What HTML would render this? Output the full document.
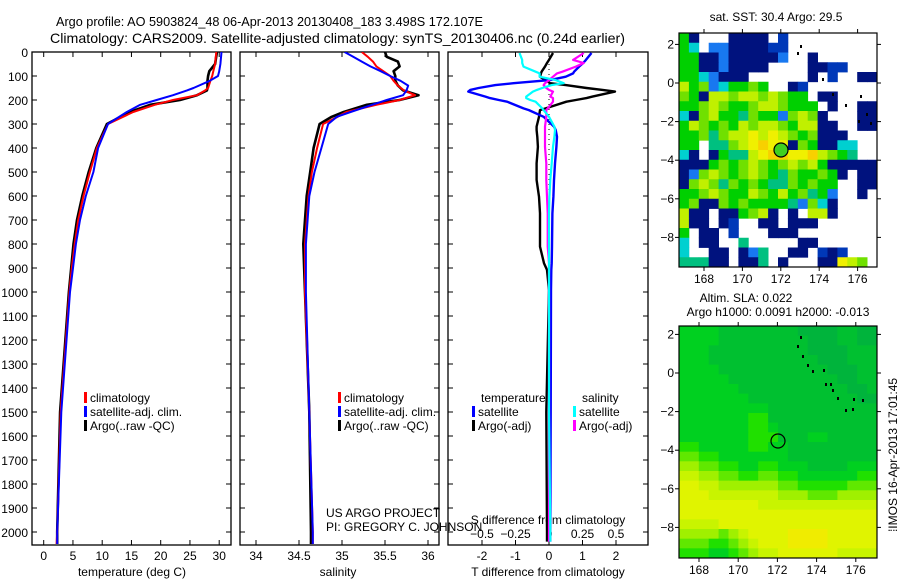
<!DOCTYPE html>
<html><head><meta charset="utf-8">
<style>
html,body{margin:0;padding:0;background:#fff;}
svg{display:block;font-family:"Liberation Sans",sans-serif;}
text{font-size:12px;fill:#000;}
</style></head>
<body>
<svg id="fig" width="900" height="580" viewBox="0 0 900 580" xmlns="http://www.w3.org/2000/svg">
<text x="56" y="26" style="font-size:13px" textLength="427" lengthAdjust="spacingAndGlyphs">Argo profile: AO 5903824_48 06-Apr-2013 20130408_183 3.498S 172.107E</text>
<text x="50" y="43" style="font-size:14px" textLength="575" lengthAdjust="spacingAndGlyphs">Climatology: CARS2009. Satellite-adjusted climatology: synTS_20130406.nc (0.24d earlier)</text>
<text x="776" y="21" text-anchor="middle" style="font-size:12px">sat. SST: 30.4 Argo: 29.5</text>
<text x="746" y="302" text-anchor="middle">Altim. SLA: 0.022</text>
<text x="778" y="316" text-anchor="middle">Argo h1000: 0.0091 h2000: -0.013</text>
<text transform="translate(897,455) rotate(-90)" text-anchor="middle">⁞IMOS 16-Apr-2013 17:01:45</text>
<text x="326" y="517">US ARGO PROJECT</text>
<text x="326" y="531">PI: GREGORY C. JOHNSON</text>
<g id="plots"></g>
</svg>
<script>
// ---- data ----
const depthT = [0,50,80,100,120,150,160,180,200,220,250,300,400,500,600,700,800,900,1000,1500,2000,2050];
const tempClim = [29.5,29.3,29.0,28.8,28.5,28.1,27.6,26.2,22.1,19.0,15.3,11.0,9.1,7.9,6.8,5.9,5.3,4.8,4.4,2.9,2.3,2.2];
const tempArgo = [29.6,29.3,28.3,28.1,28.0,28.0,27.9,26.2,23.3,18.2,14.7,10.8,9.0,7.7,6.6,5.7,5.1,4.7,4.3,2.8,2.3,2.3];
const tempSat  = [30.4,30.2,30.0,29.8,28.4,25.6,24.5,22.1,19.3,16.5,14.2,11.0,9.3,8.5,7.2,6.2,5.5,5.0,4.5,3.0,2.3,2.3];
const depthS = [0,20,40,60,80,100,120,140,160,180,200,220,250,270,300,400,500,600,800,1000,1500,2000,2050];
const salClim = [35.23,35.30,35.36,35.40,35.48,35.56,35.60,35.65,35.72,35.85,35.67,35.40,35.05,34.95,34.78,34.71,34.65,34.61,34.57,34.57,34.62,34.66,34.66];
const salArgo = [35.50,35.52,35.65,35.67,35.60,35.62,35.62,35.65,35.71,35.89,35.67,35.29,35.02,34.88,34.74,34.67,34.63,34.59,34.55,34.57,34.62,34.64,34.64];
const salSat  = [35.03,35.13,35.23,35.33,35.45,35.56,35.68,35.77,35.75,35.71,35.52,35.35,35.10,34.94,34.84,34.76,34.68,34.62,34.58,34.58,34.62,34.66,34.66];
const depthD = [4,33,46,61,82,89,103,117,130,138,150,158,165,186,192,200,207,235,242,270,311,325,353,395,464,533,603,672,811,880,908,992,1500,2000,2040];
const dTArgo = [0.12,0.0,-0.06,-0.12,-0.22,-0.24,-0.27,-0.1,0.03,0.5,1.12,1.6,1.97,1.3,1.12,0.8,0.52,-0.1,-0.27,-0.3,-0.37,-0.37,-0.35,-0.33,-0.37,-0.37,-0.3,-0.27,-0.27,-0.15,-0.06,0.0,-0.08,-0.06,-0.06];
const dTSat  = [1.27,1.1,1.02,0.9,0.75,0.72,0.5,0.03,-1.06,-1.6,-2.1,-2.35,-2.41,-1.9,-1.76,-1.5,-1.25,-0.76,-0.6,-0.16,0.15,0.2,0.24,0.22,0.18,0.15,0.13,0.1,0.09,0.08,0.07,0.06,0.05,0.04,0.04];
const dSArgo = [0.26,0.18,0.26,0.2,0.1,0.06,0.03,0.0,-0.03,-0.04,-0.02,0.0,0.03,0.01,0.03,0.03,0.03,-0.01,-0.02,-0.02,-0.03,-0.03,-0.03,-0.03,-0.02,-0.02,-0.015,-0.01,-0.01,0.0,0.0,0.0,0.0,0.0,0.0];
const dSSat  = [-0.22,-0.2,-0.2,-0.19,-0.1,-0.07,-0.07,0.05,0.11,0.02,-0.05,-0.09,-0.12,-0.17,-0.17,-0.14,-0.1,-0.05,-0.04,0.0,0.04,0.045,0.04,0.03,0.02,0.01,0.003,0.0,0.0,0.0,0.0,0.0,0.0,0.01,0.01];
const depthTicks = [0,100,200,300,400,500,600,700,800,900,1000,1100,1200,1300,1400,1500,1600,1700,1800,1900,2000];
const tempTicks = [0,5,10,15,20,25,30];
const salTicks = [34,34.5,35,35.5,36];
const salTickLabels = ["34","34.5","35","35.5","36"];
const dTTicks = [-2,-1,0,1,2];
const dSTicks = [-0.5,-0.25,0,0.25,0.5];
const dSTickLabels = ["\u22120.5","\u22120.25","0","0.25","0.5"];
const latTicks = [2,0,-2,-4,-6,-8];
const lonTicks = [168,170,172,174,176];
const sstRows = [
"GN...NNNN.B.........",
"GC.LLNNNNBB.........",
"GGNNLNNNNNL..N......",
"GGNNLNNNN....NNBB...",
"GGCLNNN......N.B..NN",
"YGgLCGGgG..NB.......",
"gGNYYgYYgYgGG.NN....",
"GGgYgGGgYYgGGG.N..NN",
"CNgYGGTgGGLgYgN...NN",
"GYgGgGYgYYgGYYNN..NN",
"GGgTgYYyYyYgGgNNN...",
"GG.TTgYyOyyNgGNNCC..",
"CN.NGTTYyOOyyOYgGT..",
"NNNGgGgYgGgYgYGNNNNN",
"NLgYgGgYgGTgGGgGN.NN",
"NgYgTgGgGTTgGgGG..NN",
"GGgYgGGYgGYGgTGL..N.",
"GgNNgGgGGGGTLgCN....",
"YNN.NNGgYN.N.YYN....",
"YNN.NB..NN.NNN......",
"G.NN.B...NNN........",
"C.NN..T.....NN......",
"C..NN.NLT..NN.BNB...",
"TTTNN.NNT.N...NNyYg."];
const sstColors = {N:"#00127e",B:"#0038b8",L:"#1878f0",C:"#00d0d0",T:"#00c080",G:"#00d000",g:"#70e000",Y:"#c0f000",y:"#f0f000",O:"#f8d000"};
const slaRows = [
"22221111111100001100","22221111111110001100","22211111111110000111","22211111111111000111",
"22221111111111100011","22222111111111110011","22222211111111111001","22222221111111111100",
"22222222211111111111","22222223311111111111","22222223321111111111","22222223331112211111",
"33222223322111111111","44332222222111111111","55443322332221111222","66554433443322222233",
"77665555554433333444","77766666665554445555","77777777666666666666","77777777777777777777",
"66667777777777777777","55554567777888877777","44433456777888877777","33322345667777776666"];
const slaColors = ["#00b43c","#00c030","#00d020","#20e000","#60e800","#a0f000","#c8f400","#e0f400","#f0ec00"];

// ---- helpers ----
const NS="http://www.w3.org/2000/svg";
const root=document.getElementById('plots');
function mk(tag,attrs,parent){const e=document.createElementNS(NS,tag);for(const k in attrs)e.setAttribute(k,attrs[k]);(parent||root).appendChild(e);return e;}
function txt(s,x,y,anchor,parent,size){const t=mk('text',{x:x,y:y,'text-anchor':anchor||'middle'},parent);if(size)t.style.fontSize=size+'px';t.textContent=s;return t;}
const yD = d => 52 + 0.24*d;
const P1={x0:32,x1:231}, P2={x0:240,x1:439}, P3={x0:448,x1:648};
const yTop=52, yBot=545;
const xT = v => 43.7 + 5.85*v;
const xS = v => 256 + 86*(v-34);
const xDT = v => 549 + 33.5*v;
const xDS = v => 549 + 134*v;

[[P1,'temperature-panel'],[P2,'salinity-panel'],[P3,'difference-panel']].forEach(([p,n])=>{
  const r=mk('rect',{x:p.x0,y:yTop,width:p.x1-p.x0,height:yBot-yTop,fill:'none',stroke:'#000','stroke-width':1.3});
  
  
  const cp=mk('clipPath',{id:'clip-'+n});
  mk('rect',{x:p.x0,y:yTop,width:p.x1-p.x0,height:yBot-yTop},cp);
  depthTicks.forEach(d=>{
    mk('line',{x1:p.x0,x2:p.x0+5,y1:yD(d),y2:yD(d),stroke:'#000'});
    mk('line',{x1:p.x1,x2:p.x1-5,y1:yD(d),y2:yD(d),stroke:'#000'});
  });
});
depthTicks.forEach(d=>{
  const t=txt(String(d),28,yD(d)+5,'end');
  
  
});
function xTicks(ticks,labels,fx,lblY){
  ticks.forEach((v,i)=>{
    const x=fx(v);
    mk('line',{x1:x,x2:x,y1:yBot,y2:yBot-5,stroke:'#000'});
    mk('line',{x1:x,x2:x,y1:yTop,y2:yTop+5,stroke:'#000'});
    const t=txt(labels[i],x,lblY);
    
    
  });
}
xTicks(tempTicks,tempTicks.map(String),xT,560);
xTicks(salTicks,salTickLabels,xS,560);
xTicks(dTTicks,dTTicks.map(String),xDT,560);
dSTicks.forEach((v,i)=>{
  const t=txt(dSTickLabels[i],xDS(v),538);
  
  
});
let t;
t=txt('temperature (deg C)',132,576);  
t=txt('salinity',338,576);  
t=txt('T difference from climatology',548,576);  
t=txt('S difference from climatology',548,524);  

for(let y=yTop+2;y<yBot;y+=5){mk('rect',{x:548.5,y:y,width:1,height:1,fill:'#000'});}

function line(depths,vals,fx,color,w,clip,name){
  const pts=depths.map((d,i)=>fx(vals[i]).toFixed(1)+','+yD(d).toFixed(1)).join(' ');
  const pl=mk('polyline',{points:pts,fill:'none',stroke:color,'stroke-width':w,'stroke-linejoin':'round','clip-path':'url(#clip-'+clip+')'});
  
  
}
line(depthT,tempArgo,xT,'#000',2.6,'temperature-panel','temp-argo-line');
line(depthT,tempClim,xT,'#f00',2,'temperature-panel','temp-climatology-line');
line(depthT,tempSat,xT,'#00f',2,'temperature-panel','temp-satellite-line');
line(depthS,salArgo,xS,'#000',2.6,'salinity-panel','sal-argo-line');
line(depthS,salClim,xS,'#f00',2,'salinity-panel','sal-climatology-line');
line(depthS,salSat,xS,'#00f',2,'salinity-panel','sal-satellite-line');
line(depthD,dTArgo,xDT,'#000',2.4,'difference-panel','t-diff-argo-line');
line(depthD,dTSat,xDT,'#00f',2.4,'difference-panel','t-diff-satellite-line');
line(depthD,dSArgo,xDS,'#f0f',2.2,'difference-panel','s-diff-argo-line');
line(depthD,dSSat,xDS,'#0ff',2.2,'difference-panel','s-diff-satellite-line');

function leg(x,y,color,label,name){
  const g=mk('g',{});
  
  
  mk('rect',{x:x,y:y-10,width:3,height:11,fill:color},g);
  txt(label,x+6,y,'start',g);
}
leg(84,402,'#f00','climatology','legend-climatology');
leg(84,416,'#00f','satellite-adj. clim.','legend-satellite-adj');
leg(84,430,'#000','Argo(..raw -QC)','legend-argo');
leg(338,402,'#f00','climatology','legend-climatology-2');
leg(338,416,'#00f','satellite-adj. clim.','legend-satellite-adj-2');
leg(338,430,'#000','Argo(..raw -QC)','legend-argo-2');
t=txt('temperature',481,402,'start');  
t=txt('salinity',582,402,'start');  
leg(472,416,'#00f','satellite','legend-t-satellite');
leg(472,430,'#000','Argo(-adj)','legend-t-argo');
leg(573,416,'#0ff','satellite','legend-s-satellite');
leg(573,430,'#f0f','Argo(-adj)','legend-s-argo');

function map(rows,colorOf,x0,y0,x1,y1,lon168,lonStep,lat0y,latStep,name){
  const g=mk('g',{});
  
  
  const nc=20,nr=rows.length,cw=(x1-x0)/nc,ch=(y1-y0)/nr;
  rows.forEach((row,j)=>{
    for(let i=0;i<nc;i++){
      const c=colorOf(row[i]||'.');
      if(!c)continue;
      mk('rect',{x:(x0+i*cw).toFixed(2),y:(y0+j*ch).toFixed(2),width:(cw+0.4).toFixed(2),height:(ch+0.4).toFixed(2),fill:c},g);
    }
  });
  mk('rect',{x:x0,y:y0,width:x1-x0,height:y1-y0,fill:'none',stroke:'#000','stroke-width':1.2},g);
  lonTicks.forEach(l=>{
    const x=lon168+(l-168)*lonStep;
    mk('line',{x1:x,x2:x,y1:y1,y2:y1+4,stroke:'#000'},g);
    mk('line',{x1:x,x2:x,y1:y0,y2:y0-4,stroke:'#000'},g);
    txt(String(l),x,y1+16,'middle',g,12);
  });
  latTicks.forEach(l=>{
    const y=lat0y-l*latStep;
    mk('line',{x1:x0,x2:x0-4,y1:y,y2:y,stroke:'#000'},g);
    mk('line',{x1:x1,x2:x1+4,y1:y,y2:y,stroke:'#000'},g);
    txt(String(l).replace('-','\u2212'),x0-5,y+4,'end',g,12);
  });
  return g;
}
const m1=map(sstRows,c=>sstColors[c],679,33,877,267,704,19.2,83,19.3,'sst-map');
const m2=map(slaRows,c=>slaColors[+c],679,326,877,558,699,19.6,373,19.3,'sla-map');
[[800,45],[797,52],[822,78],[832,93],[860,95],[866,113],[858,120],[870,122],[845,104]].forEach(p=>mk('rect',{x:p[0],y:p[1],width:2,height:3,fill:'#000'},m1));
[[800,336],[797,345],[802,355],[807,364],[812,370],[823,369],[825,383],[832,389],[837,397],[853,398],[862,399],[845,409],[852,408],[830,383]].forEach(p=>mk('rect',{x:p[0],y:p[1],width:2,height:3,fill:'#000'},m2));
const c1=mk('circle',{cx:781,cy:150,r:7,fill:'#40d020',stroke:'#000','stroke-width':1.2});


const c2=mk('circle',{cx:778,cy:441,r:7,fill:'none',stroke:'#000','stroke-width':1.2});


</script>
</body></html>
